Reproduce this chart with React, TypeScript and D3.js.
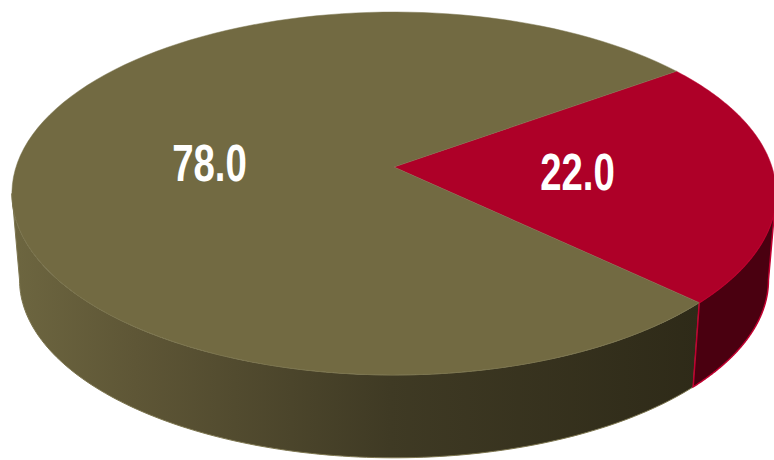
import React from "react";
import * as d3 from "d3";

const categories = ["B", "A"];
const values = [22.0, 78.0];
const labels = ["22.0", "78.0"];
const topColors = ["#ae0028", "#726a42"];
const edgeColors = ["#c00030", "#7d7650"];

const W = 774, H = 460;
const apex = { x: 394, y: 167 };
const A = 378, B = 177.6, K = 0.146;
const depth = 87, bottomScale = 0.98;
const START = (54.2 * Math.PI) / 180;

const project = (t: number, bottom = false) => {
  const u = Math.sin(t), v = Math.cos(t);
  const w = 1 + K * v;
  const s = bottom ? bottomScale : 1;
  return [apex.x + (s * A * u) / w, apex.y + (bottom ? depth : 0) - (s * B * v) / w] as [number, number];
};
const samples = (a0: number, a1: number) => d3.range(0, 121).map((i) => a0 + ((a1 - a0) * i) / 120);
const line = d3.line();
const labelFont = "'Liberation Sans',sans-serif";

export default function App() {
  const arcs = d3.pie<number>().sort(null).startAngle(START).endAngle(START + 2 * Math.PI)(values);
  const tanR = Math.acos(-K);
  const tanL = 2 * Math.PI - tanR;
  const split = arcs[0].endAngle;

  const wall = (a0: number, a1: number) => {
    const ts = samples(a0, a1);
    return line([...ts.map((t) => project(t)), ...ts.slice().reverse().map((t) => project(t, true))])! + "Z";
  };
  const face = (a0: number, a1: number) =>
    line([[apex.x, apex.y], ...samples(a0, a1).map((t) => project(t))])! + "Z";

  return (
    <svg width={W} height={H} style={{ position: "absolute", left: 0, top: 0 }}>
      <defs>
        <linearGradient id="olive" gradientUnits="userSpaceOnUse" x1={12} x2={700} y1={0} y2={0}>
          <stop offset="0" stopColor="#6d6640" />
          <stop offset="0.18" stopColor="#5e5636" />
          <stop offset="0.55" stopColor="#3f3a24" />
          <stop offset="1" stopColor="#2e2a18" />
        </linearGradient>
      </defs>
      <path d={wall(split, tanL)} fill="url(#olive)" stroke="#7d7650" strokeWidth={1} />
      <path d={wall(tanR, split)} fill="#4a0010" stroke="#c00030" strokeWidth={1.5} />
      {arcs.map((d, i) => (
        <path key={categories[i]} d={face(d.startAngle, d.endAngle)} fill={topColors[i]} stroke={edgeColors[i]} strokeWidth={0.5} />
      ))}
      <text transform="translate(577.5,190) scale(0.8,1.06)" textAnchor="middle" fill="#fff" fontFamily={labelFont} fontWeight={700} fontSize={48}>{labels[0]}</text>
      <text transform="translate(209.5,181) scale(0.8,1.06)" textAnchor="middle" fill="#fff" fontFamily={labelFont} fontWeight={700} fontSize={48}>{labels[1]}</text>
    </svg>
  );
}
